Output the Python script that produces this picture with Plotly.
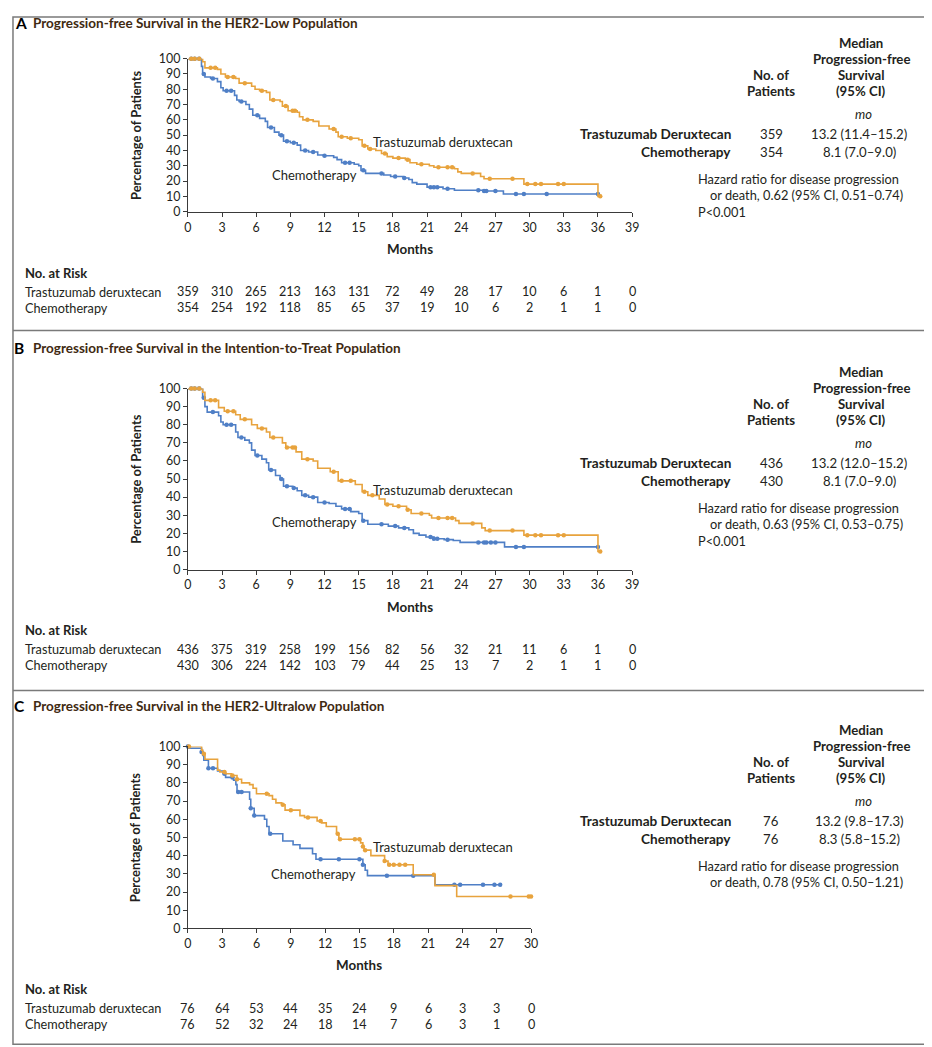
import numpy as np
import plotly.graph_objects as go

W, H = 932, 1047
# measured page placement: the photographed figure sits slightly inset and shrunk,
# so target positions (in reference pixels) are mapped back to figure pixels
SX, OX = 0.9875, 11.3
SY, OY = 0.986, 14.3
FONT = "Lato"
ORANGE = "#E8A33D"
BLUE = "#4F7FC6"
TXT = "#231f20"
TITLE_C = "#3f2a12"

# ---- Panel A: HER2-low population ----
a_tdxd_t = [0, 1.3, 1.5, 2.6, 2.9, 3.3, 4.2, 4.5, 5.6, 5.9, 6.3, 6.9, 7.2, 8.1, 8.3, 8.8, 9.6, 9.8, 10.1, 11.0,
            11.5, 12.4, 13.0, 13.2, 14.0, 15.0, 15.3, 15.8, 16.5, 17.0, 17.5, 18.0, 19.1, 19.5, 20.1, 21.2, 21.6,
            23.4, 23.7, 24.0, 25.7, 26.0, 29.5, 36.0, 36.2]
a_tdxd_s = [100, 98, 94, 93, 90, 88, 87, 84, 82, 80, 79, 78, 73, 72, 69, 66, 65, 62, 60, 59,
            56, 54, 52, 49, 48, 47, 43, 41, 40, 38, 36, 35, 34, 32, 31, 30, 29,
            28, 26, 25, 23, 21.5, 18, 10, 10]
a_chemo_t = [0, 1.2, 1.3, 1.5, 2.0, 2.6, 2.9, 3.1, 4.1, 4.3, 4.5, 5.1, 5.4, 5.7, 6.3, 6.8, 7.0, 7.6, 8.0, 8.4,
             9.0, 9.6, 9.9, 10.6, 11.4, 11.9, 12.8, 13.1, 13.5, 14.6, 15.0, 15.2, 15.6, 17.2, 17.8, 18.9, 19.4,
             19.7, 20.1, 21.0, 22.4, 23.4, 25.9, 27.7, 36.0]
a_chemo_s = [100, 95, 90, 88, 87, 85, 81, 79, 76, 73, 72, 70, 67, 63, 61, 59, 55, 52, 50, 46,
             45, 43.5, 40, 39, 37, 36.5, 35.5, 34, 32, 31, 30, 27, 25, 24, 23, 22, 21,
             19, 18, 16, 15, 14, 13.5, 11.5, 11.5]
a_tdxd_cens = [0.3, 0.6, 1.0, 2.0, 2.4, 3.5, 4.0, 5.0, 6.5, 7.5, 8.6, 9.2, 9.4, 10.5, 12.8, 13.5, 14.3, 15.5,
               16.0, 17.3, 18.5, 19.3, 20.5, 22.0, 22.8, 23.2, 25.0, 26.5, 28.5, 29.8, 30.5, 31.0, 32.5, 33.0, 36.2]
a_chemo_cens = [0.3, 0.6, 1.0, 1.4, 2.2, 3.4, 3.8, 4.7, 6.1, 7.3, 8.2, 8.7, 9.3, 10.3, 11.0, 12.0, 13.8, 14.2,
                15.4, 17.0, 18.2, 19.0, 21.3, 21.6, 21.9, 22.8, 25.5, 26.0, 26.2, 27.0, 28.8, 29.5, 31.5, 36.0]
a_risk_tdxd = [359, 310, 265, 213, 163, 131, 72, 49, 28, 17, 10, 6, 1, 0]
a_risk_chemo = [354, 254, 192, 118, 85, 65, 37, 19, 10, 6, 2, 1, 1, 0]

# ---- Panel B: intention-to-treat population ----
b_tdxd_t = [0, 1.3, 1.5, 2.7, 3.2, 4.2, 4.6, 5.6, 6.1, 6.9, 7.2, 8.3, 8.6, 9.5, 10.0, 11.0, 11.4, 12.5, 13.2,
            14.7, 15.3, 15.8, 16.8, 17.3, 18.0, 19.2, 19.6, 21.2, 21.4, 23.5, 23.8, 25.8, 26.1, 29.5, 36.0, 36.2]
b_tdxd_s = [100, 98, 93.5, 89.5, 87.5, 85.5, 83, 80, 78, 76, 73, 70, 67.5, 65, 61, 60, 56, 54, 49,
            47, 43, 41, 39, 36, 35, 33, 31, 30, 28.5, 27, 25.5, 23, 21.5, 19, 10, 10]
b_chemo_t = [0, 1.3, 1.5, 1.7, 2.7, 2.9, 3.1, 4.2, 4.4, 5.0, 5.4, 5.6, 5.9, 6.5, 6.9, 7.1, 7.7, 8.1, 8.4, 9.2,
             9.6, 10.0, 10.6, 11.4, 12.4, 13.0, 13.5, 14.3, 15.0, 15.3, 15.8, 17.6, 18.5, 19.4, 19.8, 20.3,
             20.9, 21.6, 22.5, 23.3, 23.9, 27.8, 36.0]
b_chemo_s = [100, 95, 90, 87, 85, 81.5, 80, 76, 73, 71.5, 70, 66, 63, 61, 59, 55, 52, 50, 46, 45,
             43.5, 41, 40, 37, 36.5, 35, 33.5, 32, 31, 27, 25, 24, 23, 22, 20, 19,
             18, 17, 16.5, 16, 15, 12.5, 12.5]
b_tdxd_cens = [0.3, 0.6, 1.0, 2.0, 2.4, 3.5, 4.0, 5.0, 6.5, 7.5, 8.7, 9.2, 9.4, 10.5, 12.8, 13.5, 14.3, 15.5,
               16.2, 17.5, 18.5, 19.3, 20.5, 22.0, 22.8, 23.2, 25.0, 26.5, 28.5, 29.8, 30.5, 31.0, 32.5, 33.0, 36.2]
b_chemo_cens = [0.3, 0.6, 1.0, 1.4, 2.2, 3.4, 3.8, 4.7, 6.1, 7.3, 8.2, 8.7, 9.3, 10.3, 11.0, 12.0, 13.8, 14.2,
                15.4, 17.0, 18.2, 19.0, 21.3, 21.6, 21.9, 22.8, 25.5, 26.0, 26.2, 26.6, 27.0, 28.8, 29.5, 36.0]
b_risk_tdxd = [436, 375, 319, 258, 199, 156, 82, 56, 32, 21, 11, 6, 1, 0]
b_risk_chemo = [430, 306, 224, 142, 103, 79, 44, 25, 13, 7, 2, 1, 1, 0]

# ---- Panel C: HER2-ultralow population ----
c_tdxd_t = [0, 1.2, 1.3, 1.5, 2.6, 2.8, 3.3, 3.8, 4.3, 4.7, 5.4, 5.7, 6.0, 7.1, 7.4, 7.7, 8.2, 8.5, 9.8, 10.2,
            11.3, 11.7, 12.1, 13.0, 13.2, 15.1, 15.3, 15.4, 16.0, 17.2, 17.5, 19.7, 21.6, 23.5, 30.0]
c_tdxd_s = [100, 98, 96, 93, 87, 86, 85, 84, 82, 80, 79, 77, 74, 73, 71, 69, 68, 65, 62, 61,
            59, 58, 56, 52, 49, 47, 45, 43, 40, 37, 35, 29.5, 23.5, 17.5, 17.5]
c_chemo_t = [0, 0.1, 1.2, 1.3, 1.4, 1.8, 2.6, 3.1, 3.3, 4.0, 4.2, 4.3, 5.4, 5.5, 5.8, 6.7, 6.9, 7.1, 8.3, 9.2,
             9.8, 10.9, 11.2, 15.3, 15.5, 15.7, 21.6, 27.3]
c_chemo_s = [100, 99, 97, 95, 92.5, 88, 86.5, 85, 83, 81.5, 79, 75, 71, 66, 62, 60, 56, 52, 48, 46,
             44, 41, 38, 35, 32, 29, 24, 24]
c_tdxd_cens = [0.1, 1.4, 3.2, 3.9, 4.3, 6.9, 8.3, 9.0, 10.5, 11.6, 13.1, 13.3, 14.6, 15.0, 15.3, 15.5,
               17.2, 17.6, 18.0, 18.5, 19.0, 21.5, 28.2, 29.8, 30.0]
c_chemo_cens = [0.0, 1.2, 1.8, 2.2, 3.2, 3.9, 4.4, 4.7, 5.5, 5.8, 7.2, 11.6, 13.2, 15.0, 15.3, 17.4, 19.7,
                23.3, 23.8, 25.8, 26.8, 27.3]
c_risk_tdxd = [76, 64, 53, 44, 35, 24, 9, 6, 3, 3, 0]
c_risk_chemo = [76, 52, 32, 24, 18, 14, 7, 6, 3, 1, 0]

titles = ["Progression-free Survival in the HER2-Low Population",
          "Progression-free Survival in the Intention-to-Treat Population",
          "Progression-free Survival in the HER2-Ultralow Population"]
letters = ["A", "B", "C"]
n_patients = [(359, 354), (436, 430), (76, 76)]
medians = [("13.2 (11.4\u201315.2)", "8.1 (7.0\u20139.0)"),
           ("13.2 (12.0\u201315.2)", "8.1 (7.0\u20139.0)"),
           ("13.2 (9.8\u201317.3)", "8.3 (5.8\u201315.2)")]
hazard = ["0.62 (95% CI, 0.51\u20130.74)", "0.63 (95% CI, 0.53\u20130.75)", "0.78 (95% CI, 0.50\u20131.21)"]
pvals = ["P<0.001", "P<0.001", None]

panels = [
    dict(td=(a_tdxd_t, a_tdxd_s, a_tdxd_cens), ch=(a_chemo_t, a_chemo_s, a_chemo_cens),
         risk=(a_risk_tdxd, a_risk_chemo), xmax=39, top=0),
    dict(td=(b_tdxd_t, b_tdxd_s, b_tdxd_cens), ch=(b_chemo_t, b_chemo_s, b_chemo_cens),
         risk=(b_risk_tdxd, b_risk_chemo), xmax=39, top=329),
    dict(td=(c_tdxd_t, c_tdxd_s, c_tdxd_cens), ch=(c_chemo_t, c_chemo_s, c_chemo_cens),
         risk=(c_risk_tdxd, c_risk_chemo), xmax=30, top=688),
]
# plot-area boxes in reference pixels (left, right, top, bottom)
boxes = [(187, 631, 57, 210), (187, 631, 387, 568), (187, 530, 745, 927)]
# curve label positions (months, percent)
label_td = [(22.4, 45.8), (22.4, 44.1), (22.3, 44.6)]
label_ch = [(11.1, 24.2), (11.1, 26.5), (11.0, 29.7)]


def px(x):
    return (x - OX) / SX / W


def py(y):
    return 1 - (y - OY) / SY / H


def step_value(t, s, c):
    i = np.searchsorted(np.array(t), c, side="right") - 1
    return np.array(s)[i]


def note(x, y, text, size=13, xanchor="center", color=TXT, **kw):
    return dict(x=x, y=y, xref=kw.pop("xref", "paper"), yref=kw.pop("yref", "paper"), text=text,
                showarrow=False, xanchor=xanchor, yanchor="middle",
                font=dict(family=FONT, size=size, color=color), **kw)


fig = go.Figure()
annotations = []
shapes = []

for k, p in enumerate(panels):
    sfx = "" if k == 0 else str(k + 1)
    xa, ya = "x" + sfx, "y" + sfx
    for (t, s, cens), col in [(p["ch"], BLUE), (p["td"], ORANGE)]:
        fig.add_trace(go.Scatter(x=t, y=s, mode="lines", line=dict(color=col, width=1.6, shape="hv"),
                                 xaxis=xa, yaxis=ya, showlegend=False, cliponaxis=False, hoverinfo="skip"))
        cy = [step_value(t, s, c) for c in cens]
        fig.add_trace(go.Scatter(x=cens, y=cy, mode="markers",
                                 marker=dict(color=col, size=4.5, symbol="circle"),
                                 xaxis=xa, yaxis=ya, showlegend=False, cliponaxis=False, hoverinfo="skip"))

    l, r, t_, b = boxes[k]
    ticks = list(range(0, p["xmax"] + 1, 3))
    axis_common = dict(showgrid=False, zeroline=False, showline=True, linecolor="#3a3a3a", linewidth=1,
                       ticks="outside", ticklen=4, tickwidth=1, tickcolor="#3a3a3a",
                       tickfont=dict(family=FONT, size=12.4, color=TXT))
    fig.update_layout(**{
        ("xaxis" + sfx): dict(domain=[px(l), px(r)], range=[0, p["xmax"]], tickvals=ticks,
                              anchor=ya, **axis_common),
        ("yaxis" + sfx): dict(domain=[py(b), py(t_)], range=[0, 100], tickvals=list(range(0, 101, 10)),
                              anchor=xa, **axis_common),
    })

    off = p["top"]
    # panel title (top panel is kept clear of the figure edge)
    ty = py(off + 17) if k else 1 - 7.5 / H
    lx = px(11) if k else 1.5 / W
    annotations.append(note(lx, ty, "<b>" + letters[k] + "</b>", size=15.5, xanchor="left", color="black"))
    annotations.append(note(px(30), ty, "<b>" + titles[k] + "</b>", size=13.5, xanchor="left", color=TITLE_C))
    # axis titles
    annotations.append(note(px(135), py((t_ + b) / 2), "<b>Percentage of Patients</b>", size=12.9,
                            textangle=-90))
    annotations.append(note(px((l + r) / 2), py(b + 37), "<b>Months</b>", size=13.4))
    # curve labels
    annotations.append(note(label_td[k][0], label_td[k][1], "Trastuzumab deruxtecan", xref=xa, yref=ya))
    annotations.append(note(label_ch[k][0], label_ch[k][1], "Chemotherapy", xref=xa, yref=ya))

    # number at risk
    ry = b + 61
    annotations.append(note(px(22), py(ry), "<b>No. at Risk</b>", xanchor="left"))
    for j, (lab, vals) in enumerate([("Trastuzumab deruxtecan", p["risk"][0]), ("Chemotherapy", p["risk"][1])]):
        yy = py(ry + 19 + 16 * j)
        annotations.append(note(px(22), yy, lab, size=12.7, xanchor="left"))
        for tv, v in zip(ticks, vals):
            annotations.append(note(tv, yy, str(v), size=12.6, xref=xa))

    # right-side summary table
    for i, line in enumerate(["Median", "Progression-free", "Survival", "(95% CI)"]):
        annotations.append(note(px(860), py(off + 41 + 16 * i), "<b>" + line + "</b>", size=13.2))
    for i, line in enumerate(["No. of", "Patients"]):
        annotations.append(note(px(770), py(off + 73 + 16 * i), "<b>" + line + "</b>", size=13.2))
    annotations.append(note(px(862), py(off + 112), "<i>mo</i>"))
    for i, lab in enumerate(["Trastuzumab Deruxtecan", "Chemotherapy"]):
        yy = py(off + 132 + 18 * i)
        annotations.append(note(px(732), yy, "<b>" + lab + "</b>", size=13.6, xanchor="right"))
        annotations.append(note(px(770), yy, str(n_patients[k][i]), size=13.2))
        annotations.append(note(px(858), yy, medians[k][i], size=13.2))
    annotations.append(note(px(695), py(off + 177), "Hazard ratio for disease progression", size=12.8,
                            xanchor="left"))
    annotations.append(note(px(707), py(off + 193), "or death, " + hazard[k], size=12.8, xanchor="left"))
    if pvals[k]:
        annotations.append(note(px(695), py(off + 210), pvals[k], size=12.8, xanchor="left"))

# frame and separators
frame_line = dict(color="#7a7a7a", width=1.5)
shapes.append(dict(type="rect", xref="paper", yref="paper", x0=1 / W, x1=px(929), y0=py(1043), y1=1 - 1 / H,
                   line=frame_line))
for sy in [329, 689]:
    shapes.append(dict(type="line", xref="paper", yref="paper", x0=1 / W, x1=px(929), y0=py(sy), y1=py(sy),
                       line=frame_line))

fig.update_layout(width=W, height=H, margin=dict(l=0, r=0, t=0, b=0), plot_bgcolor="white",
                  paper_bgcolor="white", annotations=annotations, shapes=shapes,
                  font=dict(family=FONT, color=TXT))

fig.write_html("out.html")
